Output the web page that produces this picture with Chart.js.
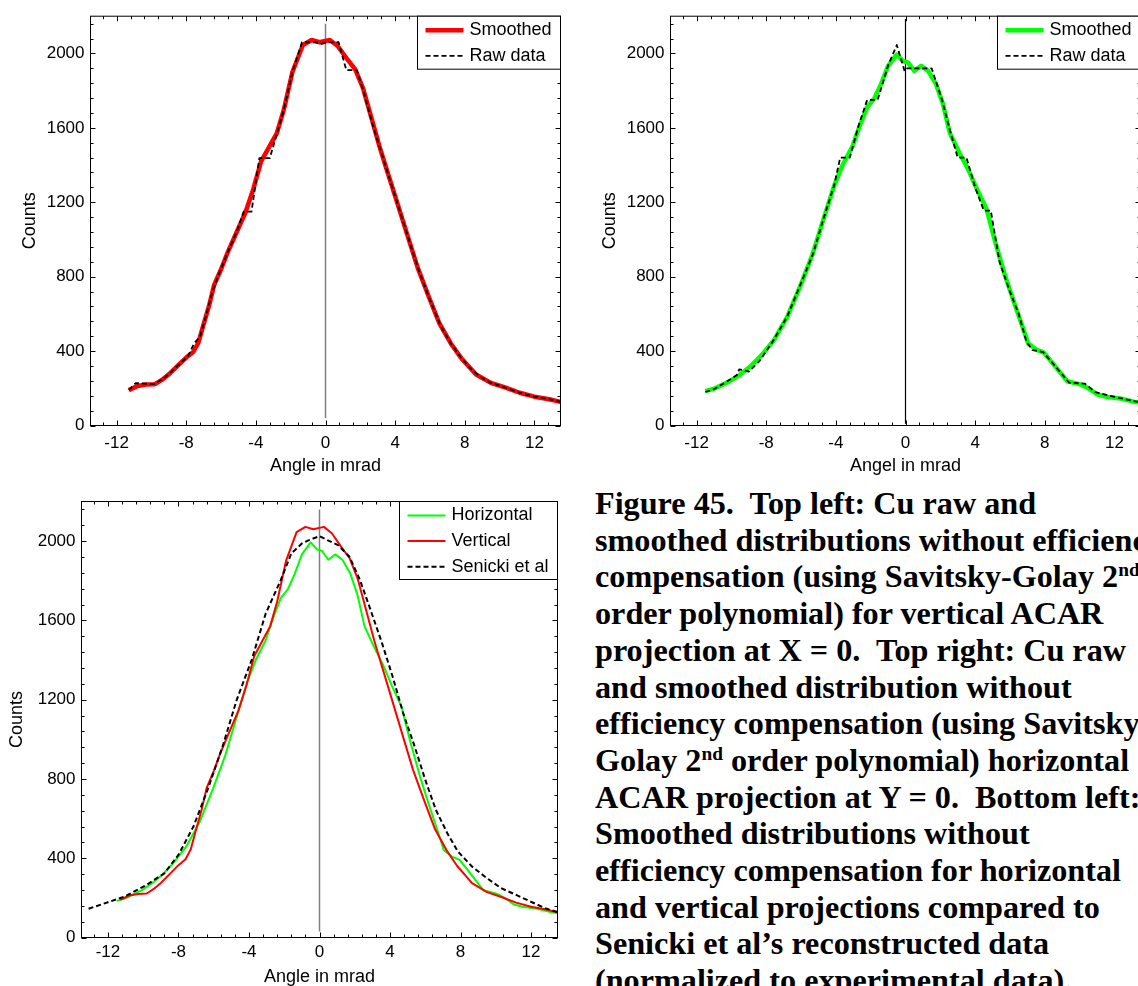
<!DOCTYPE html>
<html>
<head>
<meta charset="utf-8">
<script src="https://cdn.jsdelivr.net/npm/chart.js@4.4.1/dist/chart.umd.min.js"></script>
<style>
  html, body { margin: 0; padding: 0; background: #fff; width: 1138px; height: 986px; overflow: hidden; position: relative; }
  canvas { position: absolute; }
  #c1 { left: 0; top: 0; }
  #c2 { left: 580px; top: 0; }
  #c3 { left: 0; top: 480px; }
  #caption { position: absolute; left: 595px; top: 485px; font: bold 32.2px 'Liberation Serif', 'Times New Roman', serif; line-height: 36.7px; white-space: nowrap; color: #000; }
  #caption sup { font-size: 60%; line-height: 0; vertical-align: 0.55em; }
</style>
</head>
<body>
<canvas id="c1" width="570" height="480"></canvas>
<canvas id="c2" width="570" height="480"></canvas>
<canvas id="c3" width="570" height="516"></canvas>
<div id="caption">
  <div>Figure 45.&nbsp; Top left: Cu raw and</div>
  <div>smoothed distributions without efficiency</div>
  <div>compensation (using Savitsky-Golay 2<sup>nd</sup></div>
  <div>order polynomial) for vertical ACAR</div>
  <div>projection at X = 0.&nbsp; Top right: Cu raw</div>
  <div>and smoothed distribution without</div>
  <div>efficiency compensation (using Savitsky-</div>
  <div>Golay 2<sup>nd</sup> order polynomial) horizontal</div>
  <div>ACAR projection at Y = 0.&nbsp; Bottom left:</div>
  <div>Smoothed distributions without</div>
  <div>efficiency compensation for horizontal</div>
  <div>and vertical projections compared to</div>
  <div>Senicki et al’s reconstructed data</div>
  <div>(normalized to experimental data).</div>
</div>
<script>
// axis ticks
const xTicks = [-12, -8, -4, 0, 4, 8, 12];
const yTicks = [0, 400, 800, 1200, 1600, 2000];
const minorX = 0.8;
const minorY = 80;

// vertical projection (top left, red)
const vertSmoothX = [-11.3, -10.8, -10.3, -9.8, -9.4, -9.0, -8.5, -8.0, -7.6, -7.3, -7.0, -6.7, -6.4, -6.0, -5.6, -5.1, -4.6, -4.15, -3.7, -3.1, -2.8, -2.4, -1.9, -1.3, -0.8, -0.35, 0.25, 0.7, 1.2, 1.7, 2.15, 2.65, 3.1, 3.45, 4.05, 4.7, 5.3, 5.95, 6.55, 7.2, 7.8, 8.65, 9.5, 10.35, 11.15, 12.0, 12.85, 13.6];
const vertSmoothY = [190, 212, 220, 222, 245, 275, 320, 365, 395, 445, 545, 640, 755, 840, 935, 1040, 1145, 1270, 1420, 1520, 1570, 1695, 1900, 2045, 2072, 2060, 2072, 2040, 1975, 1915, 1815, 1650, 1500, 1395, 1218, 1025, 847, 688, 547, 441, 362, 274, 229, 203, 176, 155, 141, 125];
const vertRawX = [-11.3, -10.9, -9.85, -9.3, -8.8, -8.3, -7.9, -7.55, -7.2, -6.9, -6.5, -6.1, -5.6, -5.1, -4.7, -4.25, -3.8, -3.2, -2.8, -2.4, -1.9, -1.35, -0.55, -0.3, 0.15, 0.75, 1.2, 1.8, 2.2, 2.7, 3.2, 3.7, 4.3, 4.8, 5.4, 6.0, 6.6, 7.2, 7.8, 8.4, 8.9, 9.5, 10.1, 10.7, 11.3, 11.9, 12.5, 13.1, 13.6];
const vertRawY = [190, 228, 222, 252, 293, 338, 372, 440, 480, 577, 717, 819, 935, 1040, 1150, 1150, 1437, 1437, 1565, 1695, 1900, 2060, 2060, 2050, 2060, 2060, 1910, 1910, 1790, 1620, 1470, 1321, 1144, 995, 823, 676, 539, 441, 362, 300, 261, 229, 211, 191, 172, 157, 147, 136, 125];

// horizontal projection (top right, green)
const horizSmoothX = [-11.5, -11.0, -10.1, -9.5, -8.9, -8.25, -7.55, -6.8, -6.0, -5.35, -4.7, -4.1, -3.6, -3.05, -2.65, -2.2, -1.8, -1.4, -1.0, -0.5, -0.15, 0.15, 0.5, 0.9, 1.3, 1.75, 2.15, 2.55, 3.1, 3.6, 4.1, 4.65, 5.15, 5.7, 6.2, 6.6, 7.05, 7.55, 7.95, 8.6, 9.3, 10.05, 10.45, 11.0, 11.5, 12.35, 13.15, 13.6];
const horizSmoothY = [185, 198, 238, 274, 318, 380, 460, 582, 760, 918, 1112, 1288, 1403, 1500, 1606, 1712, 1756, 1836, 1933, 1994, 1959, 1950, 1906, 1933, 1906, 1836, 1730, 1571, 1465, 1377, 1271, 1165, 988, 812, 671, 565, 441, 406, 392, 318, 238, 221, 203, 168, 155, 145, 127, 122];
const horizRawX = [-11.5, -11.0, -10.2, -9.7, -9.55, -9.0, -8.4, -7.6, -6.8, -6.0, -5.3, -4.7, -4.1, -3.75, -3.2, -2.7, -2.2, -1.6, -1.0, -0.5, -0.05, 0.1, 1.5, 2.1, 2.6, 3.0, 3.5, 4.0, 4.5, 4.9, 5.4, 6.0, 6.5, 6.95, 7.3, 7.9, 8.5, 9.4, 10.3, 10.9, 11.3, 12.2, 13.0, 13.6];
const horizRawY = [180, 195, 240, 270, 302, 290, 345, 455, 585, 765, 925, 1115, 1290, 1440, 1440, 1610, 1750, 1750, 1935, 2045, 1905, 1920, 1920, 1750, 1570, 1440, 1440, 1280, 1155, 1155, 880, 720, 600, 450, 405, 395, 330, 230, 225, 180, 170, 150, 133, 124];

// Senicki et al (bottom left, dashed)
const senickiX = [-13.1, -12.0, -11.05, -9.8, -8.8, -8.0, -7.15, -6.35, -5.5, -4.7, -3.85, -3.05, -2.2, -1.6, -1.0, -0.6, 0, 0.45, 1.05, 1.7, 2.3, 2.9, 3.55, 4.15, 4.75, 5.4, 6.0, 6.6, 7.25, 7.85, 8.65, 9.5, 10.3, 11.15, 11.95, 12.8, 13.5];
const senickiY = [145, 178, 207, 266, 324, 417, 560, 745, 963, 1198, 1400, 1635, 1803, 1938, 1988, 2005, 2025, 2005, 1980, 1921, 1803, 1652, 1484, 1316, 1131, 963, 795, 644, 526, 434, 358, 299, 249, 215, 182, 148, 128];

// x = 0 marker lines
const zeroX = [0, 0];
const zeroY1 = [40, 2160];
const zeroY2 = [10, 2185];
const zeroY3 = [30, 2160];

const FONT = "'Liberation Sans', Arial, sans-serif";

function pts(xs, ys) {
  return xs.map((x, i) => ({ x: x, y: ys[i] }));
}

function line(label, xs, ys, color, width, dash, order) {
  return {
    label: label, data: pts(xs, ys), borderColor: color, borderWidth: width,
    borderDash: dash, borderJoinStyle: 'round', pointRadius: 0, tension: 0, fill: false, order: order
  };
}

// box round the plot with inward ticks on all four sides
const frame = {
  id: 'frame',
  afterDatasetsDraw(chart) {
    const { ctx, chartArea: a, scales: { x, y } } = chart;
    ctx.save();
    ctx.strokeStyle = '#000';
    ctx.lineWidth = 1;
    ctx.setLineDash([]);
    ctx.beginPath();
    for (let k = -16; k <= 16; k++) {
      const px = Math.round(x.getPixelForValue(k * minorX)) + 0.5;
      const len = k % 5 === 0 ? 5 : 3;
      ctx.moveTo(px, a.bottom); ctx.lineTo(px, a.bottom - len);
      ctx.moveTo(px, a.top); ctx.lineTo(px, a.top + len);
    }
    for (let k = 0; k <= 27; k++) {
      const py = Math.round(y.getPixelForValue(k * minorY)) + 0.5;
      const len = k % 5 === 0 ? 5 : 3;
      ctx.moveTo(a.left, py); ctx.lineTo(a.left + len, py);
      ctx.moveTo(a.right, py); ctx.lineTo(a.right - len, py);
    }
    ctx.stroke();
    ctx.strokeRect(a.left, a.top, a.right - a.left, a.bottom - a.top);
    ctx.restore();
  }
};

// legend in a white box in the top right corner
const boxLegend = {
  id: 'boxLegend',
  afterDraw(chart) {
    const { ctx, chartArea: a } = chart;
    const items = chart.data.datasets.filter(d => d.label);
    ctx.save();
    ctx.font = '18px ' + FONT;
    const textW = Math.max(...items.map(d => ctx.measureText(d.label).width));
    const rowH = 25.6;
    const w = Math.round(8 + 38 + 6 + textW + 9);
    const h = Math.round(items.length * rowH + 1.5);
    const x0 = a.right - w, y0 = a.top;
    ctx.fillStyle = '#fff';
    ctx.fillRect(x0, y0, w, h);
    ctx.strokeStyle = '#000';
    ctx.lineWidth = 1;
    ctx.setLineDash([]);
    ctx.strokeRect(x0, y0, w, h);
    items.forEach((d, i) => {
      const cy = y0 + 14 + i * rowH;
      ctx.strokeStyle = d.borderColor;
      ctx.lineWidth = d.borderWidth;
      ctx.setLineDash(d.borderDash);
      ctx.beginPath();
      ctx.moveTo(x0 + 8, cy);
      ctx.lineTo(x0 + 46, cy);
      ctx.stroke();
      ctx.fillStyle = '#000';
      ctx.textBaseline = 'middle';
      ctx.fillText(d.label, x0 + 52, cy);
    });
    ctx.restore();
  }
};

function makeChart(id, datasets, o) {
  return new Chart(document.getElementById(id), {
    type: 'line',
    data: { datasets: datasets },
    options: {
      responsive: false,
      animation: false,
      layout: { padding: { left: 0, top: o.top, right: o.right, bottom: 0 } },
      plugins: { legend: { display: false }, tooltip: { enabled: false } },
      scales: {
        x: {
          type: 'linear', min: -13.5, max: 13.5,
          afterBuildTicks: s => { s.ticks = xTicks.map(v => ({ value: v })); },
          afterFit: s => { s.height = o.xHeight; },
          grid: { display: false, drawTicks: false },
          border: { display: false },
          ticks: { color: '#000', font: { family: FONT, size: 17 }, padding: o.xPad, maxRotation: 0, autoSkip: false, callback: v => String(v) },
          title: { display: true, text: o.xTitle, color: '#000', font: { family: FONT, size: 18 }, padding: { top: 0, bottom: o.xTitlePad } }
        },
        y: {
          type: 'linear', min: 0, max: 2200,
          afterBuildTicks: s => { s.ticks = yTicks.map(v => ({ value: v })); },
          afterFit: s => { s.width = o.yWidth; },
          grid: { display: false, drawTicks: false },
          border: { display: false },
          ticks: { color: '#000', font: { family: FONT, size: 17 }, padding: 6, callback: v => String(v) },
          title: { display: true, text: 'Counts', color: '#000', font: { family: FONT, size: 18 }, padding: { top: o.yTitlePad, bottom: 0 } }
        }
      }
    },
    plugins: [frame, boxLegend]
  });
}

makeChart('c1', [
  line('Smoothed', vertSmoothX, vertSmoothY, '#ff0000', 4.5, [], 2),
  line('Raw data', vertRawX, vertRawY, '#000000', 1.8, [5, 3], 1),
  line('', zeroX, zeroY1, '#808080', 1.5, [], 3)
], { top: 10.5, right: 9.5, yWidth: 90.5, xHeight: 54.5, xPad: 8, xTitlePad: 3, yTitlePad: 19, xTitle: 'Angle in mrad' });

makeChart('c2', [
  line('Smoothed', horizSmoothX, horizSmoothY, '#00ff00', 4.5, [], 2),
  line('Raw data', horizRawX, horizRawY, '#000000', 1.8, [5, 3], 1),
  line('', zeroX, zeroY2, '#000000', 1.2, [], 3)
], { top: 10.5, right: 9.5, yWidth: 90.5, xHeight: 54.5, xPad: 8, xTitlePad: 3, yTitlePad: 19, xTitle: 'Angel in mrad' });

makeChart('c3', [
  line('Horizontal', horizSmoothX, horizSmoothY, '#00ff00', 2, [], 3),
  line('Vertical', vertSmoothX, vertSmoothY, '#ff0000', 2, [], 2),
  line('Senicki et al', senickiX, senickiY, '#000000', 2, [5, 3], 1),
  line('', zeroX, zeroY3, '#808080', 1.5, [], 4)
], { top: 21.5, right: 12.5, yWidth: 81.5, xHeight: 58.5, xPad: 5, xTitlePad: 8, yTitlePad: 6, xTitle: 'Angle in mrad' });
</script>
</body>
</html>
